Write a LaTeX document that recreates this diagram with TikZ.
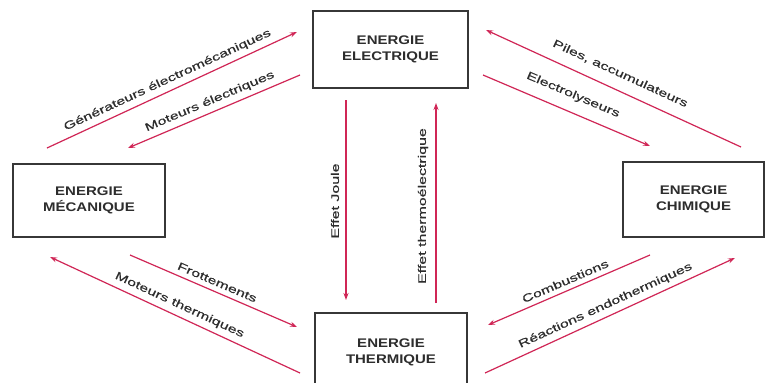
\documentclass[tikz,border=0pt]{standalone}
\usepackage{fontspec}
\setmainfont{Liberation Sans}
\newfontfamily\labelfont[FakeStretch=1.45, FakeBold=0.4]{Liberation Sans}
\newfontfamily\boxfont[FakeStretch=1.2]{Liberation Sans Bold}
\usetikzlibrary{arrows.meta}
\definecolor{arrowred}{RGB}{208,38,86}
\definecolor{boxgray}{RGB}{55,55,55}
\definecolor{txtgray}{RGB}{45,45,45}
\begin{document}
\begin{tikzpicture}[x=1pt,y=-1pt,
  energybox/.style={draw=boxgray, line width=1.8pt, fill=white, align=center,
    inner sep=0pt, text=txtgray, font=\boxfont\fontsize{12.5}{16}\selectfont},
  flow/.style={draw=arrowred, line width=1.2pt, -{Stealth[length=7pt,width=5pt]}},
  flowlabel/.style={sloped, midway, above=4pt, inner sep=1pt, text=txtgray,
    font=\labelfont\fontsize{11}{13}\selectfont},
  vlabel/.style={inner sep=1pt, text=txtgray, font=\labelfont\fontsize{11}{13}\selectfont},
]
\fill[white] (0,0) rectangle (766,383);
\useasboundingbox (0,0) rectangle (766,383);

% boxes
\node[energybox, minimum width=155pt, minimum height=77pt] (elec) at (390.5,49.5)
  {ENERGIE\\ELECTRIQUE};
\node[energybox, minimum width=152pt, minimum height=73pt] (meca) at (89,200.5)
  {ENERGIE\\MÉCANIQUE};
\node[energybox, minimum width=141pt, minimum height=75pt] (chim) at (693.5,199.5)
  {ENERGIE\\CHIMIQUE};
\node[energybox, minimum width=152pt, minimum height=79pt] (therm) at (391,352.5)
  {ENERGIE\\THERMIQUE};

% arrow end points
\coordinate (genA) at (47,148);   \coordinate (genB) at (297,32);
\coordinate (motA) at (300,75);   \coordinate (motB) at (128,148);
\coordinate (pilA) at (741,147);  \coordinate (pilB) at (486,30);
\coordinate (eleA) at (483,75);   \coordinate (eleB) at (650,146);
\coordinate (jouA) at (346,100);  \coordinate (jouB) at (346,300);
\coordinate (theA) at (436,303);  \coordinate (theB) at (436,103);
\coordinate (froA) at (130,255);  \coordinate (froB) at (297,327);
\coordinate (mthA) at (300,373);  \coordinate (mthB) at (50,257);
\coordinate (comA) at (650,255);  \coordinate (comB) at (488,325);
\coordinate (reaA) at (485,373);  \coordinate (reaB) at (735,258);

% connectors with labels
\draw[flow] (genA) -- node[flowlabel] (genL) {Générateurs électromécaniques} (genB);
\draw[flow] (motA) -- node[flowlabel] (motL) {Moteurs électriques} (motB);
\draw[flow] (pilA) -- node[flowlabel, above=6pt] (pilL) {Piles, accumulateurs} (pilB);
\draw[flow] (eleA) -- node[flowlabel, above=6pt] (eleL) {Electrolyseurs} (eleB);
\draw[flow] (froA) -- node[flowlabel] (froL) {Frottements} (froB);
\draw[flow] (mthA) -- node[flowlabel] (mthL) {Moteurs thermiques} (mthB);
\draw[flow] (comA) -- node[flowlabel] (comL) {Combustions} (comB);
\draw[flow] (reaA) -- node[flowlabel] (reaL) {Réactions endothermiques} (reaB);
\draw[flow] (jouA) -- (jouB);
\draw[flow] (theA) -- (theB);
\node[vlabel, rotate=90] (jouL) at (335,201) {Effet Joule};
\node[vlabel, rotate=90] (theL) at (423,206) {Effet thermoélectrique};
\end{tikzpicture}
\end{document}
